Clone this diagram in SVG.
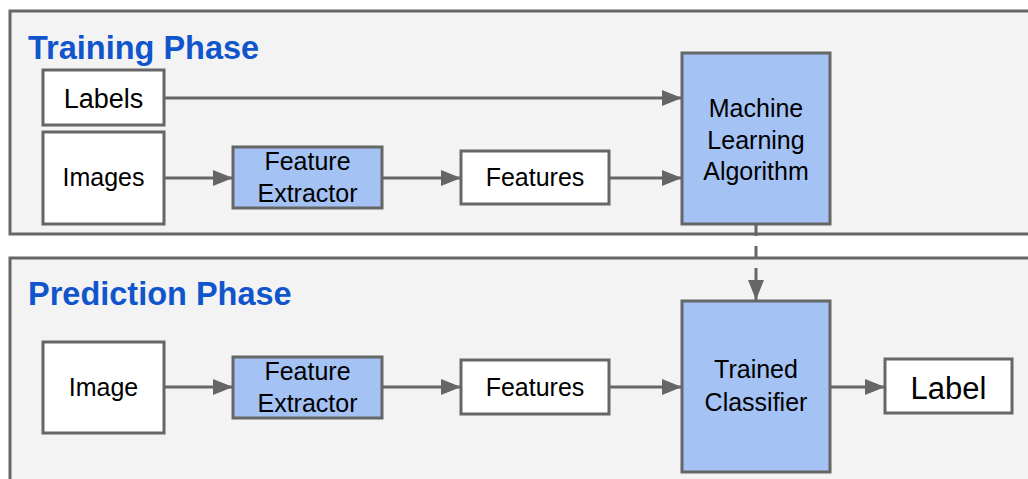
<svg xmlns="http://www.w3.org/2000/svg" width="1028" height="479" viewBox="0 0 1028 479">
<style>
.panel{fill:#f3f3f3;stroke:#666;stroke-width:3}
.box{fill:#fff;stroke:#666;stroke-width:3}
.blue{fill:#a4c2f4;stroke:#666;stroke-width:3}
.title{font-family:"Liberation Sans",Arial,sans-serif;font-weight:bold;font-size:32.5px;fill:#1155cc}
.t{font-family:"Liberation Sans",Arial,sans-serif;font-size:25px;fill:#000;text-anchor:middle}
.conn{stroke:#666;stroke-width:3;fill:none;marker-end:url(#ah)}
</style>
<defs>
<marker id="ah" markerUnits="userSpaceOnUse" markerWidth="22" markerHeight="18" refX="20" refY="8" orient="auto">
<path d="M0,0 L20,8 L0,16 z" fill="#666"/>
</marker>
</defs>
<rect width="1028" height="479" fill="#fff"/>
<g id="training-panel">
<rect class="panel" x="10" y="11" width="1040" height="223"/>
<text class="title" x="28" y="59">Training Phase</text>
</g>
<g id="prediction-panel">
<rect class="panel" x="10" y="258" width="1040" height="240"/>
<text class="title" x="28" y="305">Prediction Phase</text>
</g>
<g id="connectors">
<line class="conn" x1="164" y1="98" x2="682" y2="98"/>
<line class="conn" x1="164" y1="178" x2="233" y2="178"/>
<line class="conn" x1="382" y1="178" x2="461" y2="178"/>
<line class="conn" x1="609" y1="178" x2="682" y2="178"/>
<line class="conn" x1="756" y1="224" x2="756" y2="300" stroke-dasharray="12,10"/>
<line class="conn" x1="164" y1="387" x2="233" y2="387"/>
<line class="conn" x1="382" y1="387" x2="461" y2="387"/>
<line class="conn" x1="609" y1="387" x2="682" y2="387"/>
<line class="conn" x1="830" y1="387" x2="885" y2="387"/>
</g>
<g id="labels">
<rect class="box" x="43" y="70" width="121" height="55"/>
<text class="t" x="103.5" y="108" style="font-size:27px">Labels</text>
</g>
<g id="images">
<rect class="box" x="43" y="132" width="121" height="92"/>
<text class="t" x="103.5" y="186">Images</text>
</g>
<g id="feature-extractor-train">
<rect class="blue" x="233" y="147" width="149" height="61"/>
<text class="t" x="307.5" y="170">Feature</text>
<text class="t" x="307.5" y="202">Extractor</text>
</g>
<g id="features-train">
<rect class="box" x="461" y="151" width="148" height="53"/>
<text class="t" x="535" y="186">Features</text>
</g>
<g id="ml-algorithm">
<rect class="blue" x="682" y="53" width="148" height="171"/>
<text class="t" x="756" y="117">Machine</text>
<text class="t" x="756" y="148.5">Learning</text>
<text class="t" x="756" y="180">Algorithm</text>
</g>
<g id="image">
<rect class="box" x="43" y="342" width="121" height="91"/>
<text class="t" x="103.5" y="396">Image</text>
</g>
<g id="feature-extractor-pred">
<rect class="blue" x="233" y="357" width="149" height="61"/>
<text class="t" x="307.5" y="380">Feature</text>
<text class="t" x="307.5" y="412">Extractor</text>
</g>
<g id="features-pred">
<rect class="box" x="461" y="360" width="148" height="54"/>
<text class="t" x="535" y="396">Features</text>
</g>
<g id="trained-classifier">
<rect class="blue" x="682" y="301" width="148" height="171"/>
<text class="t" x="756" y="378">Trained</text>
<text class="t" x="756" y="411">Classifier</text>
</g>
<g id="label">
<rect class="box" x="885" y="359" width="127" height="54"/>
<text class="t" x="948.5" y="399" style="font-size:31px">Label</text>
</g>
</svg>
